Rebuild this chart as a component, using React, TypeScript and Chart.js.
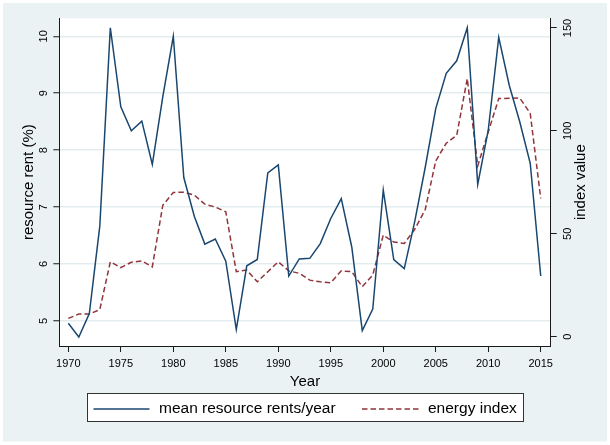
import React, { useEffect, useRef } from "react";
import { Chart, registerables } from "chart.js";

Chart.register(...registerables);

const years = [
  1970, 1971, 1972, 1973, 1974, 1975, 1976, 1977, 1978, 1979,
  1980, 1981, 1982, 1983, 1984, 1985, 1986, 1987, 1988, 1989,
  1990, 1991, 1992, 1993, 1994, 1995, 1996, 1997, 1998, 1999,
  2000, 2001, 2002, 2003, 2004, 2005, 2006, 2007, 2008, 2009,
  2010, 2011, 2012, 2013, 2014, 2015,
];

const meanRents = [
  4.96, 4.72, 5.13, 6.67, 10.15, 8.76, 8.34, 8.51, 7.75, 8.94,
  10.0, 7.52, 6.84, 6.35, 6.44, 6.05, 4.85, 5.97, 6.08, 7.6,
  7.74, 5.79, 6.09, 6.1, 6.36, 6.8, 7.15, 6.3, 4.83, 5.21,
  7.3, 6.08, 5.92, 6.75, 7.7, 8.73, 9.35, 9.57, 10.15, 7.4,
  8.35, 9.98, 9.14, 8.5, 7.77, 5.79,
];

const energyIndex = [
  8.9, 11.0, 11.0, 13.2, 36.4, 33.6, 36.2, 36.8, 34.0, 63.9,
  70.1, 70.2, 68.8, 64.4, 63.0, 60.7, 31.6, 32.4, 26.7, 31.6,
  36.4, 32.0, 30.8, 27.5, 26.7, 26.2, 32.0, 31.6, 24.3, 30.0,
  49.4, 46.0, 45.3, 52.2, 61.8, 85.4, 94.0, 97.9, 125.4, 83.0,
  99.5, 115.7, 115.8, 116.0, 108.5, 67.2,
];

const xTicks = [1970, 1975, 1980, 1985, 1990, 1995, 2000, 2005, 2010, 2015];
const leftTicks = [5, 6, 7, 8, 9, 10];
const rightTicks = [0, 50, 100, 150];

const seriesLabels = ["mean resource rents/year", "energy index"];
const xTitle = "Year";
const leftTitle = "resource rent (%)";
const rightTitle = "index value";

const NAVY = "#1A476F";
const MAROON = "#90353B";
const BG = "#EAF2F3";
const AXIS = "#1a1a1a";
const FONT = "'Liberation Sans', Arial, sans-serif";

export default function App() {
  const ref = useRef<HTMLCanvasElement | null>(null);

  useEffect(() => {
    document.body.style.margin = "0";
    const canvas = ref.current;
    if (!canvas) return;

    const decor = {
      id: "decor",
      beforeDraw(chart: any) {
        const ctx = chart.ctx;
        const { left, right, top, bottom } = chart.chartArea;
        ctx.save();
        ctx.fillStyle = "#ffffff";
        ctx.fillRect(0, 0, chart.width, chart.height);
        ctx.fillStyle = BG;
        ctx.fillRect(3, 3, chart.width - 6, chart.height - 6.5);
        ctx.fillStyle = "#ffffff";
        ctx.fillRect(left, top, right - left, bottom - top);
        ctx.restore();
      },
      afterDraw(chart: any) {
        const ctx = chart.ctx;
        const { left, right, top, bottom } = chart.chartArea;
        const xs = chart.scales.x;
        const yl = chart.scales.y;
        const yr = chart.scales.y1;
        ctx.save();
        ctx.fillStyle = "#000000";
        ctx.font = `11px ${FONT}`;
        ctx.textAlign = "center";
        ctx.textBaseline = "middle";
        xs.ticks.forEach((t: any) => {
          ctx.fillText(String(t.value), xs.getPixelForValue(t.value), 364);
        });
        yl.ticks.forEach((t: any) => {
          ctx.save();
          ctx.translate(44, yl.getPixelForValue(t.value));
          ctx.rotate(-Math.PI / 2);
          ctx.fillText(String(t.value), 0, 0);
          ctx.restore();
        });
        yr.ticks.forEach((t: any) => {
          ctx.save();
          ctx.translate(568, yr.getPixelForValue(t.value));
          ctx.rotate(-Math.PI / 2);
          ctx.fillText(String(t.value), 0, 0);
          ctx.restore();
        });
        ctx.font = `15px ${FONT}`;
        ctx.fillText(xTitle, (left + right) / 2, 382);
        const midY = (top + bottom) / 2;
        ctx.save();
        ctx.translate(29, midY);
        ctx.rotate(-Math.PI / 2);
        ctx.fillText(leftTitle, 0, 0);
        ctx.restore();
        ctx.save();
        ctx.translate(581, midY);
        ctx.rotate(-Math.PI / 2);
        ctx.fillText(rightTitle, 0, 0);
        ctx.restore();

        // legend
        const bx = 87, by = 393, bw = 436, bh = 28;
        ctx.fillStyle = "#ffffff";
        ctx.fillRect(bx, by, bw, bh);
        ctx.strokeStyle = "#333333";
        ctx.lineWidth = 1;
        ctx.strokeRect(bx + 0.5, by + 0.5, bw, bh);
        const ly = 409;
        const ds = chart.data.datasets;
        const items = [
          { x0: 93.5, x1: 149.5, tx: 159 },
          { x0: 362, x1: 418.5, tx: 428 },
        ];
        items.forEach((it, i) => {
          const d = ds[i];
          ctx.beginPath();
          ctx.strokeStyle = d.borderColor;
          ctx.lineWidth = 1.5;
          ctx.setLineDash(d.borderDash || []);
          ctx.moveTo(it.x0, ly);
          ctx.lineTo(it.x1, ly);
          ctx.stroke();
          ctx.setLineDash([]);
          ctx.fillStyle = "#000000";
          ctx.font = `15.5px ${FONT}`;
          ctx.textAlign = "left";
          ctx.textBaseline = "middle";
          ctx.fillText(d.label, it.tx, ly);
        });
        ctx.restore();
      },
    };

    const chart = new Chart(canvas, {
      type: "line",
      data: {
        datasets: [
          {
            label: seriesLabels[0],
            data: years.map((yr, i) => ({ x: yr, y: meanRents[i] })),
            borderColor: NAVY,
            borderWidth: 1.5,
            pointRadius: 0,
            tension: 0,
            yAxisID: "y",
          },
          {
            label: seriesLabels[1],
            data: years.map((yr, i) => ({ x: yr, y: energyIndex[i] })),
            borderColor: MAROON,
            borderWidth: 1.5,
            borderDash: [5.5, 3],
            pointRadius: 0,
            tension: 0,
            yAxisID: "y1",
          },
        ],
      },
      options: {
        animation: false,
        responsive: false,
        devicePixelRatio: 1,
        layout: { padding: { top: 18.3, left: 0, right: 0, bottom: 0 } },
        plugins: {
          legend: { display: false },
          tooltip: { enabled: false },
          title: { display: false },
        },
        scales: {
          x: {
            type: "linear",
            min: 1969.14,
            max: 2015.95,
            afterBuildTicks: (s: any) => {
              s.ticks = xTicks.map((v) => ({ value: v }));
            },
            afterFit: (s: any) => {
              s.height = 99;
            },
            ticks: { display: false },
            grid: {
              display: true,
              drawOnChartArea: false,
              drawTicks: true,
              tickLength: 6,
              tickColor: AXIS,
              tickWidth: 1,
            },
            border: { display: true, color: AXIS, width: 1 },
          },
          y: {
            type: "linear",
            position: "left",
            min: 4.561,
            max: 10.316,
            afterBuildTicks: (s: any) => {
              s.ticks = leftTicks.map((v) => ({ value: v }));
            },
            afterFit: (s: any) => {
              s.width = 59.3;
            },
            ticks: { display: false },
            grid: {
              display: true,
              drawOnChartArea: true,
              color: "#E3EDF0",
              lineWidth: 1.5,
              drawTicks: true,
              tickLength: 6,
              tickColor: AXIS,
              tickWidth: 1,
            },
            border: { display: true, color: AXIS, width: 1 },
          },
          y1: {
            type: "linear",
            position: "right",
            min: -4.5,
            max: 154.7,
            afterBuildTicks: (s: any) => {
              s.ticks = rightTicks.map((v) => ({ value: v }));
            },
            afterFit: (s: any) => {
              s.width = 59.3;
            },
            ticks: { display: false },
            grid: {
              display: true,
              drawOnChartArea: false,
              drawTicks: true,
              tickLength: 6,
              tickColor: AXIS,
              tickWidth: 1,
            },
            border: { display: true, color: AXIS, width: 1 },
          },
        },
      },
      plugins: [decor],
    } as any);

    return () => {
      chart.destroy();
    };
  }, []);

  return (
    <canvas
      ref={ref}
      width={610}
      height={445}
      style={{ display: "block", width: "610px", height: "445px" }}
    />
  );
}
